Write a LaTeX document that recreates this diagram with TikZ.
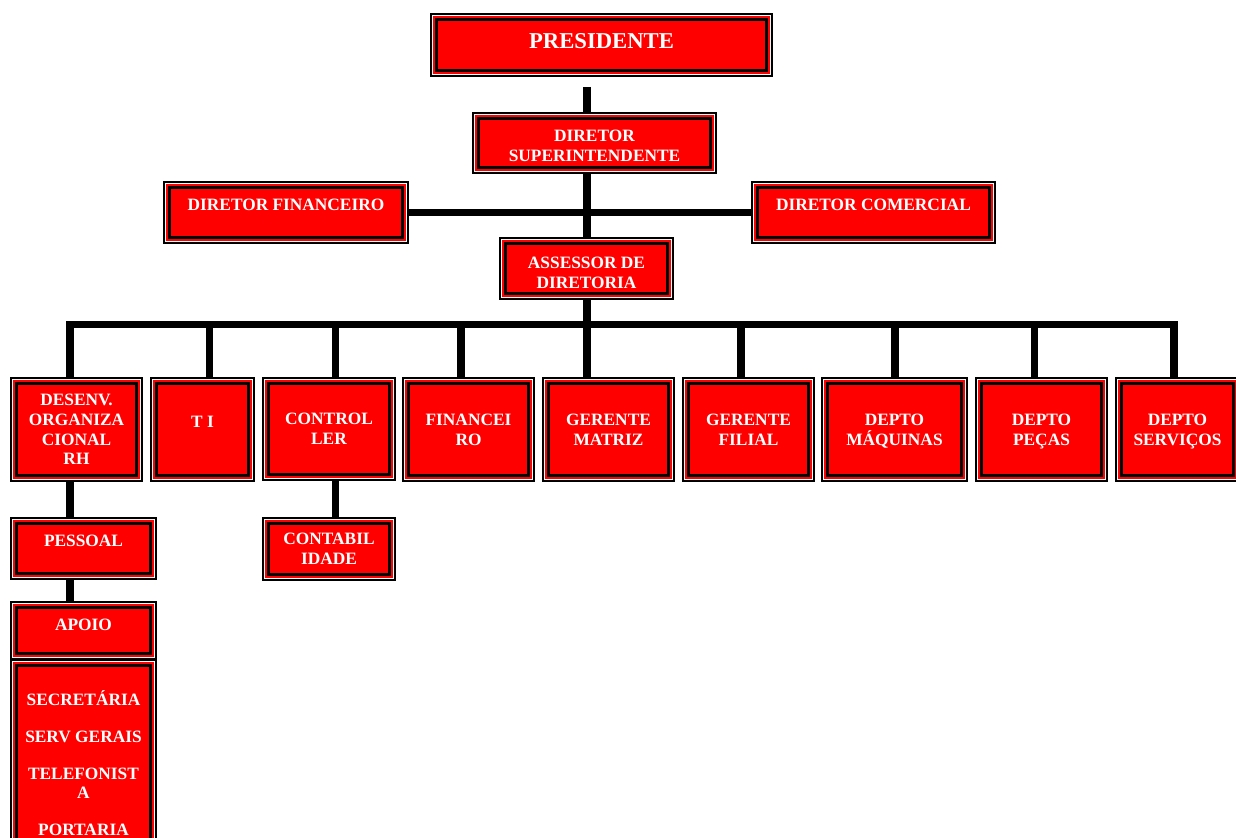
\documentclass[tikz,border=0pt]{standalone}
\usepackage{fontspec}
\setmainfont{Liberation Serif}
\definecolor{boxred}{RGB}{255,0,0}
\pgfdeclarelayer{back}
\pgfdeclarelayer{bg}
\pgfdeclarelayer{mid}
\pgfsetlayers{back,bg,mid,main}
\tikzset{
  orgbox/.style={rectangle, draw=black, line width=2.475pt, fill=boxred,
    preaction={draw=boxred, line width=5.4pt},
    outer sep=0pt, inner sep=1pt, text=white,
    font=\fontsize{13pt}{14.8pt}\selectfont\bfseries, align=center},
  frame/.style={draw=black, fill=white, line width=1.5pt},
  conn/.style={draw=black, line width=5.6pt},
  oneline/.style={text depth=12pt},
  multi/.style={text depth=-3pt},
}
\newcommand\orgnode[7][]{%
  \node[orgbox,#1,minimum width={(#5-#3-13.6)*0.75pt},minimum height={(#6-#4-13.6)*0.75pt}] (#2) at ({(#3+#5)/2},{(#4+#6)/2}) {#7};
  \begin{pgfonlayer}{mid}
    \draw[frame] ([shift={(-5.8,-5.8)}]#2.north west) rectangle ([shift={(5.8,5.8)}]#2.south east);
  \end{pgfonlayer}
}
\begin{document}
\begin{tikzpicture}[x=0.75pt,y=-0.75pt]
\useasboundingbox (0,0) rectangle (1236,838);
\begin{pgfonlayer}{back}
  \fill[white] (0,0) rectangle (1236,838);
\end{pgfonlayer}

\orgnode[font=\fontsize{17pt}{19pt}\selectfont\bfseries, text depth=6pt]{pres}{430}{13}{773}{77}{PRESIDENTE}
\orgnode[multi]{dsup}{472}{112}{717}{174}{\rule{0pt}{13.1pt}DIRETOR\\SUPERINTENDENTE}
\orgnode[oneline]{dfin}{163}{181}{409}{244}{DIRETOR FINANCEIRO}
\orgnode[oneline]{dcom}{751}{181}{996}{244}{DIRETOR COMERCIAL}
\orgnode[multi]{ass}{499}{237}{674}{300}{\rule{0pt}{14.6pt}ASSESSOR DE\\DIRETORIA}

\orgnode[multi]{desenv}{10}{377}{143}{482}{DESENV.\\ORGANIZA\\CIONAL\\RH}
\orgnode[oneline]{ti}{150}{377}{255}{482}{T I}
\orgnode[multi]{ctrl}{262}{377}{396}{481}{CONTROL\\LER}
\orgnode[multi]{fin}{402}{377}{535}{482}{FINANCEI\\RO}
\orgnode[multi]{gmat}{542}{377}{675}{482}{GERENTE\\MATRIZ}
\orgnode[multi]{gfil}{682}{377}{815}{482}{GERENTE\\FILIAL}
\orgnode[multi]{dmaq}{821}{377}{968}{482}{DEPTO\\MÁQUINAS}
\orgnode[multi]{dpec}{975}{377}{1108}{482}{DEPTO\\PEÇAS}
\orgnode[multi]{dserv}{1115}{377}{1240}{482}{DEPTO\\SERVIÇOS}

\orgnode[oneline]{pess}{10}{517}{157}{580}{PESSOAL}
\orgnode[multi]{contab}{262}{517}{396}{581}{CONTABIL\\IDADE}
\orgnode[text depth=9pt]{apoio}{10}{601}{157}{660}{APOIO}
\orgnode[font=\fontsize{13pt}{14pt}\selectfont\bfseries]{apoiolist}{10}{659}{157}{867}{SECRETÁRIA\\[14pt]SERV GERAIS\\[14pt]TELEFONIST\\A\\[14pt]PORTARIA}

\coordinate (ptop) at (587,87);
\coordinate (busL) at (70,324.5);
\coordinate (busR) at (1174,324.5);
\foreach \n/\x in {desenv/70, ti/209.5, ctrl/335.5, fin/461, gmat/587, gfil/741, dmaq/895, dpec/1034.5, dserv/1174}
  \coordinate (b\n) at (\x,324.5);

\begin{pgfonlayer}{bg}
  \draw[conn] (ptop) -- (ptop |- dsup.north);
  \draw[conn] (ptop |- dsup.south) -- (ptop |- ass.north);
  \draw[conn] (dfin.east) -- (dcom.west);
  \draw[conn] (ptop |- ass.south) -- (bgmat);
  \draw[conn, line cap=rect] (busL) -- (busR);
  \foreach \n in {desenv, ti, ctrl, fin, gmat, gfil, dmaq, dpec, dserv}
    \draw[conn] (b\n) -- (b\n |- \n.north);
  \draw[conn] (bdesenv |- desenv.south) -- (bdesenv |- pess.north);
  \draw[conn] (bdesenv |- pess.south) -- (bdesenv |- apoio.north);
  \draw[conn] (bctrl |- ctrl.south) -- (bctrl |- contab.north);
\end{pgfonlayer}
\end{tikzpicture}
\end{document}
